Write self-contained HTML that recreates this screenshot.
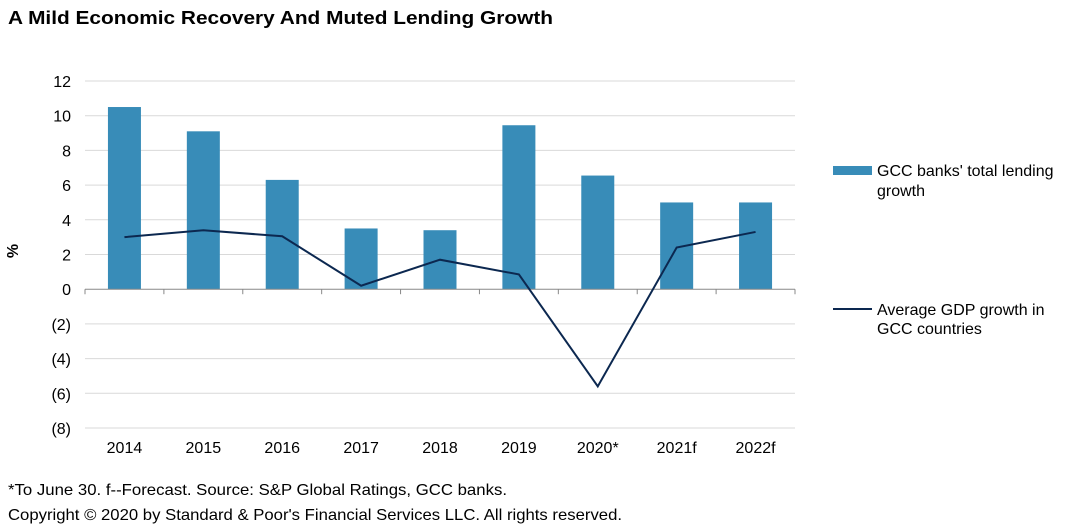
<!DOCTYPE html>
<html><head><meta charset="utf-8"><style>
html,body{margin:0;padding:0;background:#fff;}
svg{display:block;font-family:"Liberation Sans",Arial,sans-serif;}
</style></head><body>
<svg id="chart" width="1068" height="530" viewBox="0 0 1068 530" xmlns="http://www.w3.org/2000/svg">
<text x="8" y="24" font-size="18" font-weight="bold" textLength="545" lengthAdjust="spacingAndGlyphs">A Mild Economic Recovery And Muted Lending Growth</text>
<g id="grid"></g>
<g id="yticks"></g>
<text x="0" y="0" font-size="16" font-weight="bold" transform="translate(18,251) rotate(-90)" text-anchor="middle">%</text>
<g id="bars"></g>
<g id="xaxis"></g>
<g id="line"></g>
<g>
<rect x="833" y="166" width="39" height="9" fill="#388cb8"/>
<text font-size="16" fill="#000"><tspan x="877" y="176">GCC banks' total lending</tspan><tspan x="877" y="196">growth</tspan></text>
<line x1="833" y1="309" x2="872" y2="309" stroke="#0c2850" stroke-width="2"/>
<text font-size="16" fill="#000"><tspan x="877" y="315">Average GDP growth in</tspan><tspan x="877" y="334">GCC countries</tspan></text>
</g>
<text x="8" y="495" font-size="16" textLength="499" lengthAdjust="spacingAndGlyphs">*To June 30. f--Forecast. Source: S&amp;P Global Ratings, GCC banks.</text>
<text x="8" y="520" font-size="16" textLength="614" lengthAdjust="spacingAndGlyphs">Copyright © 2020 by Standard &amp; Poor's Financial Services LLC. All rights reserved.</text>
</svg>
<script>
const categories = ["2014","2015","2016","2017","2018","2019","2020*","2021f","2022f"];
const lendingGrowth = [10.5, 9.1, 6.3, 3.5, 3.4, 9.45, 6.55, 5.0, 5.0];
const gdpGrowth = [3.0, 3.4, 3.05, 0.2, 1.7, 0.85, -5.6, 2.4, 3.3];
const yTickValues = [12,10,8,6,4,2,0,-2,-4,-6,-8];
const yTickLabels = ["12","10","8","6","4","2","0","(2)","(4)","(6)","(8)"];

const NS = "http://www.w3.org/2000/svg";
const X0 = 85, X1 = 795, Y_TOP = 81, Y_BOT = 428, YMAX = 12, YMIN = -8;
function yScale(v){ return Y_TOP + (YMAX - v) / (YMAX - YMIN) * (Y_BOT - Y_TOP); }
const band = (X1 - X0) / categories.length;
function xCenter(i){ return X0 + band * (i + 0.5); }
function mk(tag, attrs, parent){ const e = document.createElementNS(NS, tag); for (const k in attrs) e.setAttribute(k, attrs[k]); parent.appendChild(e); return e; }

const grid = document.getElementById('grid'), yt = document.getElementById('yticks');
yTickValues.forEach((v, i) => {
  if (v !== 0) {
    const g = mk('line', {x1: X0, x2: X1, y1: yScale(v), y2: yScale(v), stroke: '#d9d9d9', 'stroke-width': 1}, grid);
    
    
  }
  const t = mk('text', {x: 71, y: yScale(v) + 6, 'font-size': 16, 'text-anchor': 'end'}, yt);
  
  
  t.textContent = yTickLabels[i];
});

const bars = document.getElementById('bars'), bw = 33;
lendingGrowth.forEach((v, i) => {
  const y = Math.min(yScale(v), yScale(0)), h = Math.abs(yScale(v) - yScale(0));
  const r = mk('rect', {x: xCenter(i) - bw / 2, y: y, width: bw, height: h, fill: '#388cb8'}, bars);
  
  
});

const xa = document.getElementById('xaxis');
const zl = mk('line', {x1: X0, x2: X1, y1: yScale(0), y2: yScale(0), stroke: '#888', 'stroke-width': 1}, xa);


for (let i = 0; i <= categories.length; i++) {
  const x = X0 + band * i;
  const tk = mk('line', {x1: x, x2: x, y1: yScale(0), y2: yScale(0) + 5, stroke: '#888', 'stroke-width': 1}, xa);
  
  
}
categories.forEach((c, i) => {
  const t = mk('text', {x: xCenter(i), y: 453, 'font-size': 16, 'text-anchor': 'middle'}, xa);
  
  
  t.textContent = c;
});

const lg = document.getElementById('line');
const pts = gdpGrowth.map((v, i) => xCenter(i) + ',' + yScale(v)).join(' ');
const pl = mk('polyline', {points: pts, fill: 'none', stroke: '#0c2850', 'stroke-width': 2, 'stroke-linejoin': 'miter'}, lg);


</script>
</body></html>
